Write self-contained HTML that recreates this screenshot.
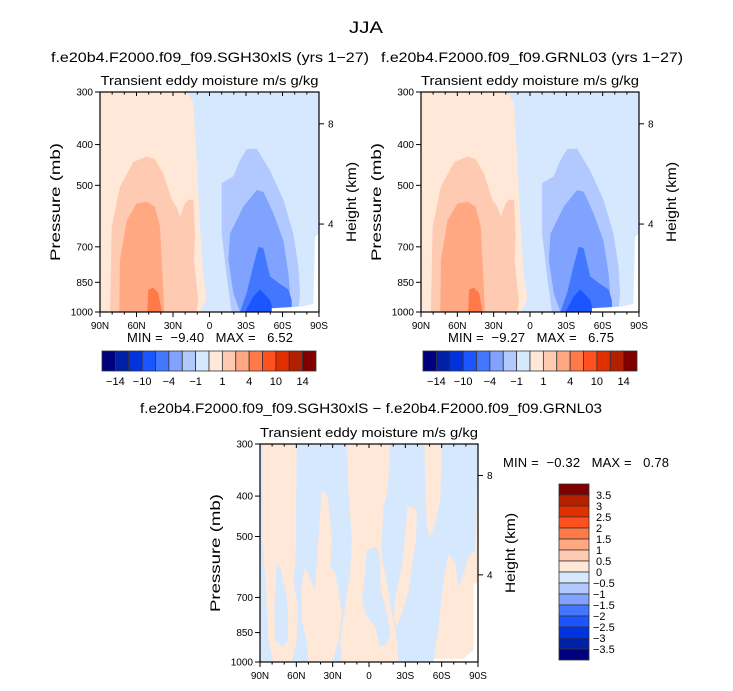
<!DOCTYPE html>
<html><head><meta charset="utf-8"><style>
body{margin:0;background:#fff;width:733px;height:686px;overflow:hidden}
svg text{font-family:"Liberation Sans",sans-serif;fill:#000}
</style></head><body>
<svg id="fig" width="733" height="686" xmlns="http://www.w3.org/2000/svg">
<text x="366" y="33" font-size="17" text-anchor="middle" textLength="34" lengthAdjust="spacingAndGlyphs">JJA</text>
</svg>
<script>
const NS="http://www.w3.org/2000/svg";
const svg=document.getElementById('fig');
// ---- data ----
const latTicks=[90,60,30,0,-30,-60,-90];
const latLabels=["90N","60N","30N","0","30S","60S","90S"];
const presTicks=[300,400,500,700,850,1000];
const heightTickP=[357,618];
const heightLabels=["8","4"];
const topColors=["#00007f","#0020a8","#0033dd","#1a55ff","#4477ff","#80a3ff","#b2c9ff","#d6e8fd","#ffe8d7","#ffcab2","#ffa882","#ff7a48","#ff5020","#e03000","#b22000","#800000"];
const topBarLabels=["−14","−10","−4","−1","1","4","10","14"];
const diffBarLabels=["3.5","3","2.5","2","1.5","1","0.5","0","−0.5","−1","−1.5","−2","−2.5","−3","−3.5"];
// contour regions [lat, pressure]
const posL0=[[90,300],[18.8,300],[13.3,318],[10.5,436],[7.8,627],[5,823],[2.3,919],[3.7,955],[7.8,1000],[90,1000]];
const posL1=[[81.8,1000],[80.4,627],[73.6,504],[62.6,440],[51.6,427],[44.8,433],[37.9,470],[31.1,541],[27,562],[24.2,594],[20.1,552],[17.4,541],[13.3,541],[11.9,651],[12.7,751],[10.5,869],[9.2,937],[10.5,1000]];
const posL2=[[74.1,1000],[73.6,751],[68,605],[59.9,552],[51.6,547],[44.8,562],[40.7,627],[39.3,751],[37.9,901],[37.4,1000]];
const posL3=[[51,1000],[50.3,884],[46.2,876],[42,901],[39.3,1000]];
const negL1=[[-18.2,1000],[-14.1,823],[-10,651],[-10,494],[-19.6,476],[-25.1,436],[-30.6,410],[-38.8,409],[-49.7,461],[-60.7,541],[-68.9,651],[-73,776],[-74.4,901],[-73,1000]];
const negL2=[[-25.1,1000],[-19.6,901],[-15.5,751],[-16.9,651],[-27.8,562],[-38.8,513],[-44.3,518],[-52.5,583],[-60.7,676],[-64.8,808],[-66.2,901],[-65.6,1000]];
const negL3=[[-25.1,1000],[-30.6,901],[-36,776],[-40.2,700],[-44.3,706],[-49.7,823],[-56.6,853],[-64.8,884],[-67.6,937],[-67.6,1000]];
const negL4=[[-29.2,1000],[-36,919],[-41.5,884],[-49.7,937],[-52.5,1000]];
const missTop=[[-51.1,1000],[-51.1,980],[-77.1,970],[-85.4,955],[-86.7,663],[-90,651],[-90,1000]];
const dA=[[88,300],[59.7,300],[60.5,559],[62.4,636],[58.8,737],[59.7,887],[63.8,1000],[79,1000],[83.1,887],[84.5,737],[85.9,613],[88,510]];
const dAhole=[[76.2,580],[73.5,591],[67.9,698],[66.6,794],[67.1,887],[70.7,920],[77.6,887],[78.1,737]];
const dB=[[39,387],[33.9,401],[30.7,510],[32.1,591],[28,613],[25.2,673],[22.5,765],[25.2,887],[29.3,973],[30.7,1000],[50,1000],[51.4,887],[55.5,794],[55.5,648],[52.8,591],[44.5,673],[41.8,510]];
const dC=[[18.3,300],[-17.5,300],[-15.6,387],[-12,424],[-10.1,539],[-10.6,559],[-14.8,648],[-18.9,765],[-23,887],[-24.4,1000],[22.5,1000],[23.8,887],[19.7,737],[15.6,613],[14.2,510],[16.9,387]];
const dChole=[[1.8,539],[-6.5,529],[-9.3,570],[-9.3,660],[-14.8,765],[-17.5,855],[-14.8,904],[-9.3,920],[-5.1,824],[3.2,765],[5.9,698],[3.2,613]];
const dD=[[-32.1,420],[-39.6,432],[-38.8,510],[-35.4,591],[-32.7,673],[-27.2,765],[-23,824],[-20.3,794],[-21.7,698],[-27.2,591],[-29.9,491]];
const dE=[[-45.9,300],[-60.3,300],[-58.9,409],[-54.7,465],[-50.6,501],[-47.9,474],[-46.5,387]];
const dF=[[-53.4,1000],[-57.5,824],[-61.6,636],[-65.8,549],[-71.3,580],[-74,660],[-78.2,613],[-82.3,559],[-87.8,539],[-90,340],[-90,1000]];
const missDiff=[[-53.4,982],[-78.2,982],[-82.3,955],[-86.4,937],[-86.4,648],[-90,648],[-90,1000],[-53.4,1000]];

function mk(tag,attrs,parent){const e=document.createElementNS(NS,tag);for(const k in attrs)e.setAttribute(k,attrs[k]);(parent||svg).appendChild(e);return e;}
function txt(s,attrs,parent){const e=mk('text',attrs,parent);e.textContent=s;return e;}

function panel(px,py,w,h,regions,name){
  const g=mk('g',{});
  
  
  const X=lat=>px+(90-lat)/180*w;
  const Y=p=>py+h-Math.log(1000/p)/Math.log(1000/300)*h;
  const bg=mk('rect',{x:px,y:py,width:w,height:h,fill:'#d6e8fd'},g);
  
  
  regions.forEach(([pts,col,nm])=>{
    const poly=mk('polygon',{points:pts.map(q=>X(q[0]).toFixed(1)+','+Y(q[1]).toFixed(1)).join(' '),fill:col},g);
    
    
  });
  mk('rect',{x:px,y:py,width:w,height:h,fill:'none',stroke:'#000','stroke-width':1.2},g);
  for(let lat=90;lat>=-90;lat-=10){
    const major=lat%30===0;
    mk('line',{x1:X(lat),x2:X(lat),y1:py+h,y2:py+h+(major?5:2.5),stroke:'#000'},g);
    mk('line',{x1:X(lat),x2:X(lat),y1:py,y2:py+(major?4:2.5),stroke:'#000'},g);
  }
  latTicks.forEach((lat,i)=>{
    const t=txt(latLabels[i],{x:X(lat),y:py+h+17,'font-size':10,'text-anchor':'middle'},g);
    
    
  });
  presTicks.forEach(p=>{
    mk('line',{x1:px-5,x2:px,y1:Y(p),y2:Y(p),stroke:'#000'},g);
    const t=txt(String(p),{x:px-7,y:Y(p)+3.5,'font-size':10,'text-anchor':'end'},g);
    
    
  });
  heightTickP.forEach((p,i)=>{
    mk('line',{x1:px+w,x2:px+w+5,y1:Y(p),y2:Y(p),stroke:'#000'},g);
    const t=txt(heightLabels[i],{x:px+w+9,y:Y(p)+3.5,'font-size':10},g);
    
    
  });
  const yl=txt('Pressure (mb)',{x:0,y:0,'font-size':14,'text-anchor':'middle',textLength:118,lengthAdjust:'spacingAndGlyphs',transform:`translate(${px-40},${py+h/2}) rotate(-90)`},g);
  
  
  const hl=txt('Height (km)',{x:0,y:0,'font-size':14,'text-anchor':'middle',textLength:80,lengthAdjust:'spacingAndGlyphs',transform:`translate(${px+w+37},${py+h/2}) rotate(-90)`},g);
  
  
  const st=txt('Transient eddy moisture m/s g/kg',{x:px+w/2,y:py-7,'font-size':13,'text-anchor':'middle',textLength:218,lengthAdjust:'spacingAndGlyphs'},g);
  
  
}
const C=topColors;
const topRegions=[[posL0,C[8],'contour-pos-0'],[posL1,C[9],'contour-pos-1'],[posL2,C[10],'contour-pos-2'],[posL3,C[11],'contour-pos-3'],
 [negL1,C[6],'contour-neg-1'],[negL2,C[5],'contour-neg-2'],[negL3,C[4],'contour-neg-3'],[negL4,C[3],'contour-neg-4'],[missTop,'#ffffff','missing-data']];
panel(100,92,219,220,topRegions,'panel-sgh30');
panel(421,92,218,220,topRegions,'panel-grnl03');
const diffRegions=[[dA,C[8],'diff-pos-a'],[dAhole,C[7],'diff-neg-a'],[dB,C[8],'diff-pos-b'],[dC,C[8],'diff-pos-c'],[dChole,C[7],'diff-neg-c'],
 [dD,C[8],'diff-pos-d'],[dE,C[8],'diff-pos-e'],[dF,C[8],'diff-pos-f'],[missDiff,'#ffffff','missing-data']];
panel(260,444,218,218,diffRegions,'panel-difference');

// titles
[[210,318,'f.e20b4.F2000.f09_f09.SGH30xlS (yrs 1−27)','left-panel-title'],[532,302,'f.e20b4.F2000.f09_f09.GRNL03 (yrs 1−27)','right-panel-title']].forEach(([x,L,s,n])=>{
  const t=txt(s,{x:x,y:62,'font-size':14,'text-anchor':'middle',textLength:L,lengthAdjust:'spacingAndGlyphs'});
  
  
});
const bt=txt('f.e20b4.F2000.f09_f09.SGH30xlS − f.e20b4.F2000.f09_f09.GRNL03',{x:371,y:413,'font-size':14,'text-anchor':'middle',textLength:462,lengthAdjust:'spacingAndGlyphs'});


[[127,'MIN =  −9.40   MAX =   6.52'],[448,'MIN =  −9.27   MAX =   6.75']].forEach(([x,s])=>{
  const t=txt(s,{x:x,y:342,'font-size':13,textLength:166,lengthAdjust:'spacing'});
  t.setAttribute('style','white-space:pre');
  
  
});
const dm=txt('MIN =  −0.32   MAX =   0.78',{x:503,y:467,'font-size':13,textLength:166,lengthAdjust:'spacing'});
dm.setAttribute('style','white-space:pre');



// horizontal colorbars
function hbar(x0,y0,w,h,name){
  const g=mk('g',{});
  
  
  const bw=w/topColors.length;
  topColors.forEach((c,i)=>{
    const r=mk('rect',{x:x0+i*bw,y:y0,width:bw,height:h,fill:c,stroke:'#333','stroke-width':0.8},g);
    
    
  });
  topBarLabels.forEach((s,i)=>{
    const t=txt(s,{x:x0+(2*i+1)*bw,y:y0+h+14,'font-size':11,'text-anchor':'middle'},g);
    
    
  });
}
hbar(102,351,214,20,'left-colorbar');
hbar(423,351,214,20,'right-colorbar');
// vertical colorbar
(function(){
  const g=mk('g',{});
  
  
  const x0=559,y0=484,w=30,bh=11;
  topColors.slice().reverse().forEach((c,i)=>{
    const r=mk('rect',{x:x0,y:y0+i*bh,width:w,height:bh,fill:c,stroke:'#333','stroke-width':0.8},g);
    
    
  });
  diffBarLabels.forEach((s,i)=>{
    const t=txt(s,{x:s.startsWith('−')?593:596,y:y0+(i+1)*bh+4,'font-size':11},g);
    
    
  });
})();
</script>
</body></html>
